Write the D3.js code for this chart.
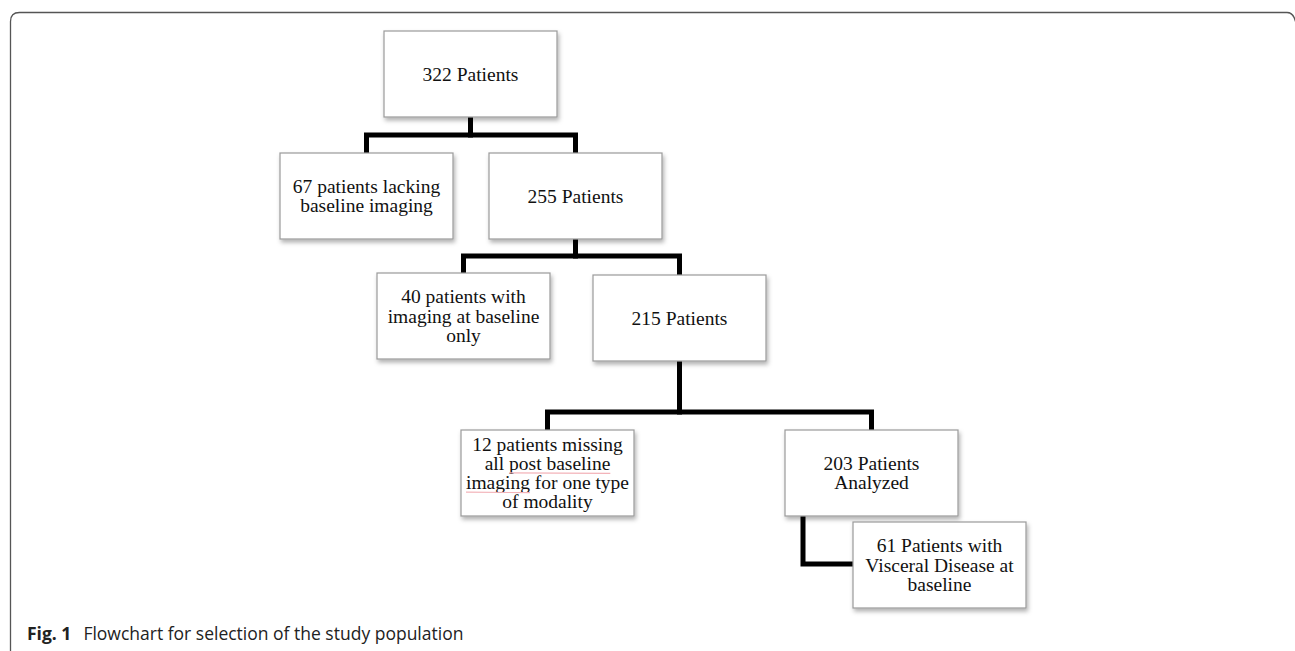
<!DOCTYPE html>
<html>
<head>
<meta charset="utf-8">
<script src="https://cdn.jsdelivr.net/npm/d3@7"></script>
<style>
  body { margin: 0; background: #fff; }
  svg { display: block; }
</style>
</head>
<body>
<div id="chart"></div>
<script>
var W = 1295, H = 651;

// flowchart content
var counts = [322, 67, 255, 40, 215, 12, 203, 61];
var labels = [
  ["322 Patients"],
  ["67 patients lacking", "baseline imaging"],
  ["255 Patients"],
  ["40 patients with", "imaging at baseline", "only"],
  ["215 Patients"],
  ["12 patients missing", "all post baseline", "imaging for one type", "of modality"],
  ["203 Patients", "Analyzed"],
  ["61 Patients with", "Visceral Disease at", "baseline"]
];
var parents = [null, 0, 0, 2, 2, 4, 4, 6];
// spell-check underlines in the original figure
var squiggles = [
  {node: 5, line: 1, word: "post baseline"},
  {node: 5, line: 2, word: "imaging"}
];
var captionBold = "Fig. 1";
var captionText = "Flowchart for selection of the study population";

// layout (box top-left corners, pixels)
var layout = {
  boxW: 173, boxH: 86,
  left: [384, 280, 489, 377, 593, 461, 785, 853],
  top:  [31, 153, 153, 273, 275, 430, 430, 522],
  elbowY: {0: 135, 2: 256, 4: 412},
  lineH: 19.3
};

var nodes = counts.map(function(c, i) {
  return {id: i, count: c, lines: labels[i], parent: parents[i],
    x: layout.left[i], y: layout.top[i]};
});

var svg = d3.select('#chart').append('svg')
  .attr('width', W).attr('height', H);

var defs = svg.append('defs');
var f = defs.append('filter').attr('id', 'shadow')
  .attr('x', '-10%').attr('y', '-10%').attr('width', '130%').attr('height', '140%');
f.append('feDropShadow').attr('dx', 1.5).attr('dy', 3).attr('stdDeviation', 2.2)
  .attr('flood-color', '#000').attr('flood-opacity', 0.3);

// outer frame with rounded corners
var r = 9;
svg.append('path')
  .attr('d', 'M10.5,' + (H + 5) + ' L10.5,' + (12.5 + r) +
    ' Q10.5,12.5 ' + (10.5 + r) + ',12.5 L' + (W - 8) + ',12.5 Q' + (W - 1) + ',12.5 ' + (W + 1) + ',' + (12.5 + r + 2))
  .attr('fill', 'none').attr('stroke', '#555').attr('stroke-width', 1.3);

// connectors
var links = svg.append('g').attr('fill', 'none').attr('stroke', '#000')
  .attr('stroke-width', 5).attr('stroke-linejoin', 'miter').attr('stroke-linecap', 'square');

nodes.forEach(function(n) {
  if (n.parent === null) return;
  var p = nodes[n.parent];
  var path = d3.path();
  if (layout.elbowY[n.parent] !== undefined) {
    var px = p.x + layout.boxW / 2, py = p.y + layout.boxH;
    var cx = n.x + layout.boxW / 2, my = layout.elbowY[n.parent];
    path.moveTo(px, py);
    path.lineTo(px, my);
    path.lineTo(cx, my);
    path.lineTo(cx, n.y);
  } else {
    // side branch: down from parent's left part, across into child's side
    var sx = p.x + 18;
    var sy = n.y + layout.boxH / 2 - 1;
    path.moveTo(sx, p.y + layout.boxH);
    path.lineTo(sx, sy);
    path.lineTo(n.x, sy);
  }
  links.append('path').attr('d', path.toString());
});

// boxes
var box = svg.selectAll('g.node').data(nodes).enter().append('g')
  .attr('class', 'node')
  .attr('transform', function(d) { return 'translate(' + d.x + ',' + d.y + ')'; });

box.append('rect')
  .attr('width', layout.boxW).attr('height', layout.boxH)
  .attr('fill', '#fff').attr('stroke', '#9a9a9a').attr('stroke-width', 1.2)
  .attr('filter', 'url(#shadow)');

var txt = box.append('text')
  .attr('font-family', '"Liberation Serif", "Times New Roman", serif')
  .attr('font-size', 19.5).attr('fill', '#111').attr('text-anchor', 'middle');

txt.each(function(d) {
  var t = d3.select(this);
  var n = d.lines.length;
  d.lines.forEach(function(line, i) {
    var y = layout.boxH / 2 + (i - (n - 1) / 2) * layout.lineH + 6.5;
    t.append('tspan').attr('x', layout.boxW / 2).attr('y', y).text(line);
  });
});

// faint red spell-check underline
squiggles.forEach(function(s) {
  var n = nodes[s.node];
  var tspan = svg.selectAll('g.node').filter(function(d) { return d.id === s.node; })
    .selectAll('tspan').nodes()[s.line];
  var line = n.lines[s.line];
  var total = tspan.getComputedTextLength();
  var idx = line.indexOf(s.word);
  var x0 = n.x + layout.boxW / 2 - total / 2 + (idx > 0 ? tspan.getSubStringLength(0, idx) : 0);
  var wlen = tspan.getSubStringLength(idx, s.word.length);
  var yb = n.y + layout.boxH / 2 + (s.line - (n.lines.length - 1) / 2) * layout.lineH + 9.5;
  svg.append('path').attr('d', d3.line()([[x0, yb], [x0 + wlen, yb + 0.5]]))
    .attr('fill', 'none').attr('stroke', '#f3b3b9').attr('stroke-width', 1.2);
});

// caption
var cap = svg.append('text')
  .attr('x', 27).attr('y', 640)
  .attr('font-family', '"Open Sans", "Noto Sans", sans-serif')
  .attr('font-size', 17.5).attr('fill', '#222');
cap.append('tspan').attr('font-weight', 'bold').text(captionBold);
cap.append('tspan').attr('dx', 12).text(captionText);
</script>
</body>
</html>
